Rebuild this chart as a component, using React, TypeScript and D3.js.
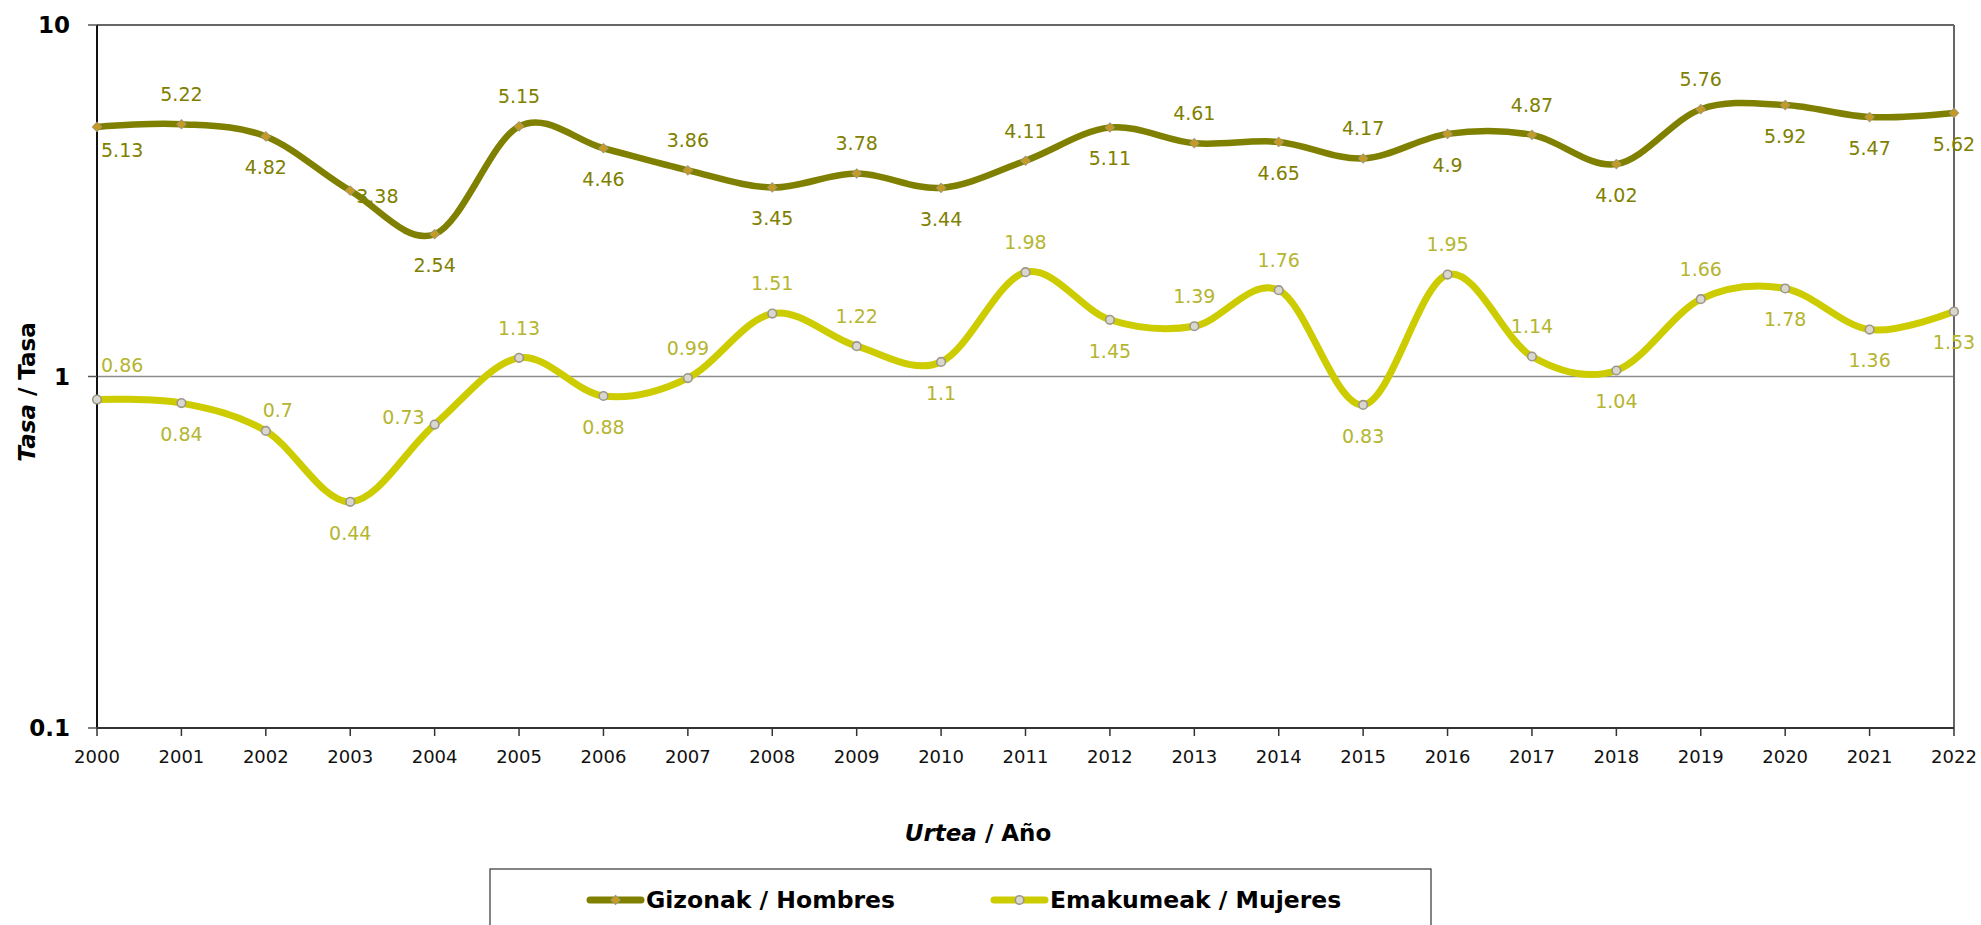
import React from "react";
import * as d3 from "d3";

const years = ["2000","2001","2002","2003","2004","2005","2006","2007","2008","2009","2010","2011","2012","2013","2014","2015","2016","2017","2018","2019","2020","2021","2022"];
const men = [5.13, 5.22, 4.82, 3.38, 2.54, 5.15, 4.46, 3.86, 3.45, 3.78, 3.44, 4.11, 5.11, 4.61, 4.65, 4.17, 4.9, 4.87, 4.02, 5.76, 5.92, 5.47, 5.62];
const women = [0.86, 0.84, 0.7, 0.44, 0.73, 1.13, 0.88, 0.99, 1.51, 1.22, 1.1, 1.98, 1.45, 1.39, 1.76, 0.83, 1.95, 1.14, 1.04, 1.66, 1.78, 1.36, 1.53];
// label placement keywords: a = above, b = below, r = right, l = left, ar = above-right
const menPos = ["b","a","b","r","b","a","b","a","b","a","b","a","b","a","b","a","b","a","b","a","b","b","b"];
const womenPos = ["a","b","ar","b","l","a","b","a","a","a","b","a","b","a","a","b","a","a","b","a","b","b","b"];
const yTicks = [0.1, 1, 10];
const menName = "Gizonak / Hombres";
const womenName = "Emakumeak / Mujeres";

const W = 1981, H = 925;
const L = 97, R = 1954, T = 25, B = 728;
const FONT = "'DejaVu Sans', sans-serif";

const x = d3.scalePoint<string>().domain(years).range([L, R]);
const y = d3.scaleLog().domain([0.1, 10]).range([B, T]);

const line = d3.line<number>()
  .x((_, i) => x(years[i]) as number)
  .y((v) => y(v))
  .curve(d3.curveCardinal.tension(0));

function labelProps(px: number, py: number, pos: string, i: number) {
  if (i === 0) {
    return { x: px + 4, y: pos === "a" ? py - 34 : py + 23, anchor: "start" };
  }
  switch (pos) {
    case "a": return { x: px, y: py - 30, anchor: "middle" };
    case "b": return { x: px, y: py + 31, anchor: "middle" };
    case "r": return { x: px + 6, y: py + 6, anchor: "start" };
    case "l": return { x: px - 10, y: py - 7, anchor: "end" };
    case "ar": return { x: px + 12, y: py - 21, anchor: "middle" };
    default: return { x: px, y: py - 30, anchor: "middle" };
  }
}

function Diamond({ cx, cy }: { cx: number; cy: number }) {
  const s = 4.5;
  return (
    <path d={`M${cx},${cy - s}L${cx + s},${cy}L${cx},${cy + s}L${cx - s},${cy}Z`} fill="#C99A1C" stroke="#A8996A" strokeWidth={1.2} />
  );
}
function Circ({ cx, cy }: { cx: number; cy: number }) {
  return <circle cx={cx} cy={cy} r={4.3} fill="#DAD7CF" stroke="#9C978A" strokeWidth={1.6} />;
}

export default function App() {
  return (
    <svg width={W} height={H} style={{ position: "absolute", left: 0, top: 0, background: "#fff" }} fontFamily={FONT}>
      <rect x={0} y={0} width={W} height={H} fill="#fff" />
      {/* gridline at 1 */}
      <line x1={L} x2={R} y1={y(1)} y2={y(1)} stroke="#8c8c8c" strokeWidth={1.3} />
      {/* plot border top/right */}
      <line x1={L} x2={R} y1={T} y2={T} stroke="#666" strokeWidth={2} />
      <line x1={R} x2={R} y1={T} y2={B} stroke="#666" strokeWidth={2} />
      {/* axes */}
      <line x1={L} x2={L} y1={T} y2={B} stroke="#111" strokeWidth={2} />
      <line x1={L} x2={R} y1={B} y2={B} stroke="#333" strokeWidth={2} />
      {yTicks.map((t) => (
        <g key={t}>
          <line x1={L - 9} x2={L} y1={y(t)} y2={y(t)} stroke="#555" strokeWidth={1.5} />
          <text x={70} y={y(t)} dy="0.36em" textAnchor="end" fontSize={23} fontWeight="bold" fill="#000">{String(t)}</text>
        </g>
      ))}
      {years.map((yr) => (
        <g key={yr}>
          <line x1={x(yr)} x2={x(yr)} y1={B} y2={B + 8} stroke="#333" strokeWidth={1.5} />
          <text x={x(yr)} y={757} dy="0.36em" textAnchor="middle" fontSize={18} fill="#111">{yr}</text>
        </g>
      ))}
      {/* series lines */}
      <path d={line(women) || ""} fill="none" stroke="#CCCC00" strokeWidth={7} strokeLinecap="round" />
      <path d={line(men) || ""} fill="none" stroke="#808000" strokeWidth={6.5} strokeLinecap="round" />
      {women.map((v, i) => <Circ key={"wc" + i} cx={x(years[i]) as number} cy={y(v)} />)}
      {men.map((v, i) => <Diamond key={"md" + i} cx={x(years[i]) as number} cy={y(v)} />)}
      {/* labels */}
      {men.map((v, i) => {
        const p = labelProps(x(years[i]) as number, y(v), menPos[i], i);
        return <text key={"ml" + i} x={p.x} y={p.y} dy="0.36em" textAnchor={p.anchor} fontSize={19} fill="#808000">{String(v)}</text>;
      })}
      {women.map((v, i) => {
        const p = labelProps(x(years[i]) as number, y(v), womenPos[i], i);
        return <text key={"wl" + i} x={p.x} y={p.y} dy="0.36em" textAnchor={p.anchor} fontSize={19} fill="#B5B530">{String(v)}</text>;
      })}
      {/* axis titles */}
      <text transform={`translate(27,392) rotate(-90)`} textAnchor="middle" dy="0.36em" fontSize={23} fontWeight="bold" fill="#000">
        <tspan fontStyle="italic">Tasa</tspan> / Tasa
      </text>
      <text x={978} y={833} dy="0.36em" textAnchor="middle" fontSize={23} fontWeight="bold" fill="#000">
        <tspan fontStyle="italic">Urtea</tspan> / Año
      </text>
      {/* legend */}
      <rect x={490} y={869} width={941} height={120} fill="#fff" stroke="#333" strokeWidth={1.2} />
      <line x1={590} x2={641} y1={900} y2={900} stroke="#808000" strokeWidth={7} strokeLinecap="round" />
      <Diamond cx={615.5} cy={900} />
      <text x={646} y={900} dy="0.36em" fontSize={23.5} fontWeight="bold" fill="#000">{menName}</text>
      <line x1={994} x2={1045} y1={900} y2={900} stroke="#CCCC00" strokeWidth={7} strokeLinecap="round" />
      <Circ cx={1019.5} cy={900} />
      <text x={1050} y={900} dy="0.36em" fontSize={23.5} fontWeight="bold" fill="#000">{womenName}</text>
    </svg>
  );
}
